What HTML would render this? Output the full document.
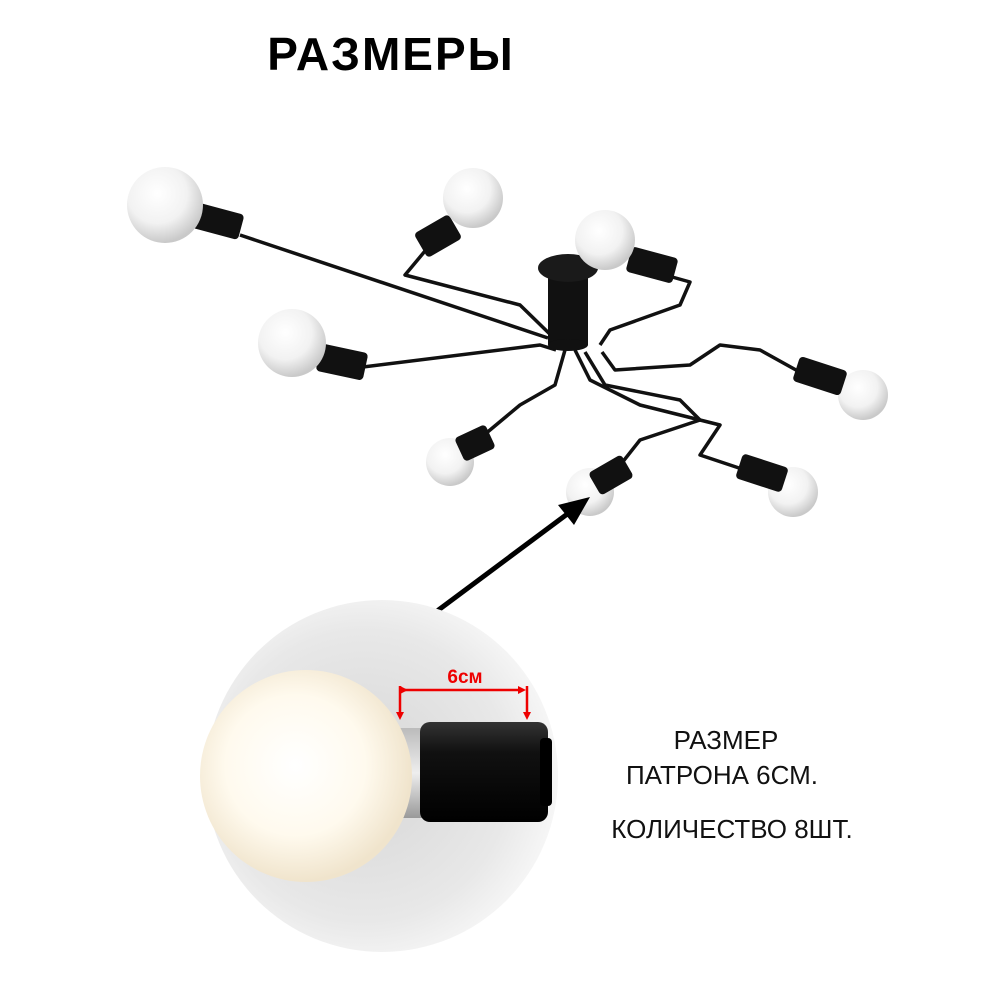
<!DOCTYPE html>
<html><head><meta charset="utf-8"><style>
html,body{margin:0;padding:0;background:#fff;width:1000px;height:1000px;overflow:hidden}
svg text{font-family:"Liberation Sans",sans-serif}
</style></head><body>
<svg width="1000" height="1000" viewBox="0 0 1000 1000" xmlns="http://www.w3.org/2000/svg">
<defs>
<radialGradient id="bulb" cx="40%" cy="35%" r="65%">
<stop offset="0" stop-color="#ffffff"/><stop offset="0.6" stop-color="#f2f2f2"/><stop offset="1" stop-color="#c9c9c9"/></radialGradient>
<radialGradient id="big" cx="45%" cy="50%" r="55%">
<stop offset="0" stop-color="#d6d6d6"/><stop offset="0.75" stop-color="#e8e8e8"/><stop offset="1" stop-color="#f6f6f6"/></radialGradient>
<radialGradient id="glow" cx="45%" cy="45%" r="55%">
<stop offset="0" stop-color="#ffffff"/><stop offset="0.6" stop-color="#fffaee"/><stop offset="1" stop-color="#f0e4cc"/></radialGradient>
<linearGradient id="sock" x1="0" y1="0" x2="0" y2="1">
<stop offset="0" stop-color="#333"/><stop offset="0.3" stop-color="#111"/><stop offset="1" stop-color="#000"/></linearGradient>
<linearGradient id="ring" x1="0" y1="0" x2="0" y2="1">
<stop offset="0" stop-color="#bbb"/><stop offset="0.5" stop-color="#eee"/><stop offset="1" stop-color="#999"/></linearGradient>
<marker id="ar" markerWidth="8" markerHeight="8" refX="4" refY="4" orient="auto" markerUnits="userSpaceOnUse">
<path d="M0,0 L8,4 L0,8 z" fill="#e00"/></marker>
</defs>
<text x="391" y="70" font-size="46" font-weight="bold" letter-spacing="2" text-anchor="middle">РАЗМЕРЫ</text>

<g fill="none" stroke="#111" stroke-width="3.5" stroke-linejoin="round">
<path d="M240,235 L548,338"/>
<path d="M430,245 L405,275 L520,305 L558,342"/>
<path d="M665,275 L690,282 L680,305 L610,330 L600,345"/>
<path d="M355,368 L540,345 L556,350"/>
<path d="M805,375 L760,350 L720,345 L690,365 L615,370 L602,352"/>
<path d="M478,440 L520,405 L555,385 L565,350"/>
<path d="M610,478 L640,440 L700,420 L680,400 L605,385 L585,352"/>
<path d="M760,475 L700,455 L720,425 L640,405 L590,380 L575,350"/>
</g>
<rect x="548" y="265" width="40" height="80" fill="#111"/>
<ellipse cx="568" cy="345" rx="20" ry="6" fill="#111"/>
<ellipse cx="568" cy="268" rx="30" ry="14" fill="#1a1a1a"/>

<g>
<rect x="192" y="208" width="50" height="26" rx="4" fill="#111" transform="rotate(15 217 221)"/>
<circle cx="165" cy="205" r="38" fill="url(#bulb)"/>
<rect x="418" y="222" width="40" height="28" rx="4" fill="#111" transform="rotate(-30 438 236)"/>
<circle cx="473" cy="198" r="30" fill="url(#bulb)"/>
<rect x="628" y="252" width="48" height="26" rx="4" fill="#111" transform="rotate(15 652 265)"/>
<circle cx="605" cy="240" r="30" fill="url(#bulb)"/>
<rect x="318" y="348" width="48" height="28" rx="4" fill="#111" transform="rotate(12 342 362)"/>
<circle cx="292" cy="343" r="34" fill="url(#bulb)"/>
<circle cx="863" cy="395" r="25" fill="url(#bulb)"/>
<rect x="795" y="363" width="50" height="26" rx="4" fill="#111" transform="rotate(18 820 376)"/>
<circle cx="450" cy="462" r="24" fill="url(#bulb)"/>
<rect x="458" y="430" width="34" height="26" rx="4" fill="#111" transform="rotate(-25 475 443)"/>
<circle cx="590" cy="492" r="24" fill="url(#bulb)"/>
<rect x="592" y="462" width="38" height="26" rx="4" fill="#111" transform="rotate(-30 611 475)"/>
<circle cx="793" cy="492" r="25" fill="url(#bulb)"/>
<rect x="738" y="460" width="48" height="26" rx="4" fill="#111" transform="rotate(18 762 473)"/>
</g>

<line x1="425" y1="620" x2="570" y2="512" stroke="#000" stroke-width="5"/>
<path d="M590,497 L558,505 L574,525 z" fill="#000"/>

<circle cx="382" cy="776" r="176" fill="url(#big)"/>
<rect x="395" y="728" width="40" height="90" rx="6" fill="url(#ring)"/>
<rect x="420" y="722" width="128" height="100" rx="10" fill="url(#sock)"/>
<rect x="540" y="738" width="12" height="68" rx="4" fill="#000"/>
<circle cx="306" cy="776" r="106" fill="url(#glow)"/>

<text x="465" y="683" font-size="19" font-weight="bold" fill="#e00" text-anchor="middle">6см</text>
<line x1="404" y1="690" x2="522" y2="690" stroke="#e00" stroke-width="2.5" marker-start="url(#ar)" marker-end="url(#ar)"/>
<line x1="400" y1="686" x2="400" y2="716" stroke="#e00" stroke-width="2.5" marker-end="url(#ar)"/>
<line x1="527" y1="686" x2="527" y2="716" stroke="#e00" stroke-width="2.5" marker-end="url(#ar)"/>

<g font-size="26" text-anchor="middle" fill="#111">
<text x="726" y="749">РАЗМЕР</text>
<text x="722" y="784">ПАТРОНА 6СМ.</text>
<text x="732" y="838">КОЛИЧЕСТВО 8ШТ.</text>
</g>
</svg>
</body></html>
